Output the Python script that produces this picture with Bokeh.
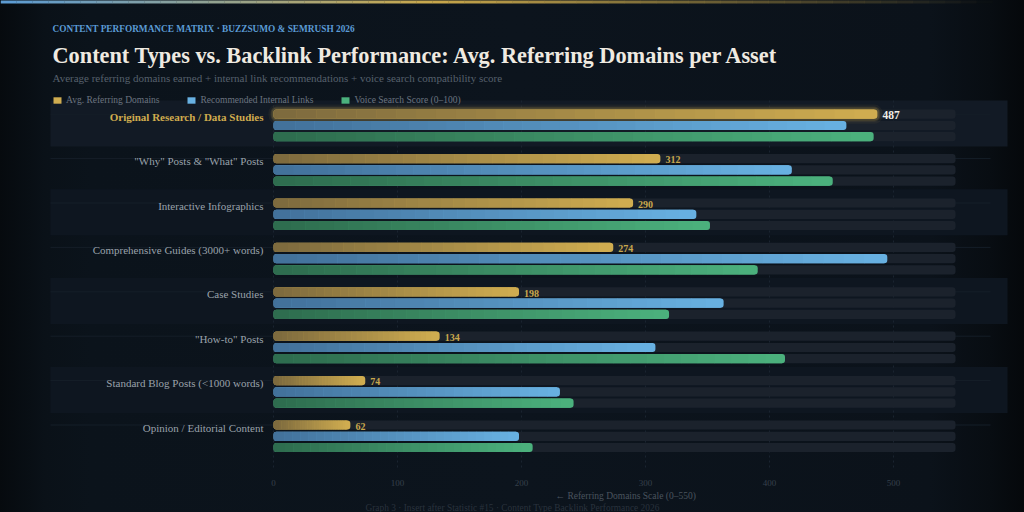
import numpy as np
from bokeh.plotting import figure
from bokeh.models import (Range1d, FixedTicker, Label, Legend, LegendItem,
                          ColumnDataSource, Title)
from bokeh.embed import file_html
from bokeh.resources import INLINE
from bokeh.core.properties import value

# ---------------- data ----------------
categories = [
    "Original Research / Data Studies",
    "\"Why\" Posts & \"What\" Posts",
    "Interactive Infographics",
    "Comprehensive Guides (3000+ words)",
    "Case Studies",
    "\"How-to\" Posts",
    "Standard Blog Posts (<1000 words)",
    "Opinion / Editorial Content",
]
referring_domains = [487, 312, 290, 274, 198, 134, 74, 62]
internal_links = [42, 38, 31, 45, 33, 28, 21, 18]
voice_score = [88, 82, 64, 71, 58, 75, 44, 38]
series_names = ["Avg. Referring Domains", "Recommended Internal Links",
                "Voice Search Score (0\u2013100)"]
x_ticks = [0, 100, 200, 300, 400, 500]
scale_max = 550
internal_links_max = 50
voice_score_max = 100

# ---------------- layout constants ----------------
W, H = 1024, 512
X0 = 273.0          # pixel of value 0
PX = 1.24           # pixels per domain unit
ROW_PX = 44.4       # pixels per category row
ROW0_PX = 126.5     # pixel of first row centre
FRAME_BOTTOM = 470

BG = "#0b131b"
TRACK = "#1b222c"
GOLD_L, GOLD_R = "#7d6a3e", "#d0ad50"
BLUE_L, BLUE_R = "#42719a", "#68b1e2"
GREEN_L, GREEN_R = "#2e6c4e", "#4bb17d"
SERIF = "Liberation Serif"


def px_x(px):
    return (px - X0) / PX


def px_y(py):
    return (py - ROW0_PX) / ROW_PX


def hex2rgb(h):
    h = h.lstrip("#")
    return tuple(int(h[i:i + 2], 16) for i in (0, 2, 4))


def mix(c1, c2, t):
    a, b = hex2rgb(c1), hex2rgb(c2)
    return "#%02x%02x%02x" % tuple(int(round(a[i] + (b[i] - a[i]) * t)) for i in range(3))


n = len(categories)
rows = np.arange(n)
blue_scaled = [v / internal_links_max * scale_max for v in internal_links]
green_scaled = [v / voice_score_max * scale_max for v in voice_score]
hi = int(np.argmax(referring_domains))

BAR_H = 9.2 / ROW_PX
OFF_GOLD = -12.8 / ROW_PX
OFF_BLUE = -1.5 / ROW_PX
OFF_GREEN = 9.7 / ROW_PX

p = figure(width=W, height=H, output_backend="svg", toolbar_location=None,
           x_range=Range1d(px_x(0), px_x(W)),
           y_range=Range1d(px_y(FRAME_BOTTOM), px_y(0)),
           y_axis_location=None, min_border_left=0, min_border_right=0,
           min_border_top=0, min_border_bottom=H - FRAME_BOTTOM,
           background_fill_color=BG, border_fill_color=BG,
           outline_line_color=None)
# page-wide dark background with edge vignette
p.background_fill_alpha = 0
p.border_fill_alpha = 0
p.styles = {"background": "linear-gradient(90deg, #060a0e 0px, #0a1118 45px, "
                          "#0b131b 90px, #0c141d 520px, #0b121a 930px, "
                          "#080d12 990px, #05080b 1024px)"}
p.xgrid.visible = False
p.ygrid.visible = False

ax = p.xaxis[0]
ax.ticker = FixedTicker(ticks=x_ticks)
ax.axis_line_color = None
ax.major_tick_line_color = None
ax.minor_tick_line_color = None
ax.major_label_standoff = 3
ax.major_label_text_font = SERIF
ax.major_label_text_font_size = "9px"
ax.major_label_text_color = "#36404b"

# axis title and footer below the axis
p.add_layout(Title(text="\u2190  Referring Domains Scale (0\u2013550)", align="left",
                   offset=555, standoff=0, text_font=SERIF,
                   text_font_size="9.5px", text_font_style="normal",
                   text_color="#4a535e"), "below")
p.add_layout(Title(text="Graph 3 \u00b7 Insert after Statistic #15 \u00b7 Content Type Backlink Performance 2026",
                   align="center", standoff=0, text_font=SERIF,
                   text_font_size="9.4px", text_font_style="normal",
                   text_color="#29323c"), "below")

# ---------------- top stripe ----------------
sl, sr, sc, sa = [], [], [], []
NS = 64
for k in range(NS):
    t = (k + 0.5) / NS
    if t < 0.42:
        c = mix("#5b9bd5", "#c9a84c", t / 0.42)
        a = 1.0
    else:
        c = "#c9a84c"
        a = max(0.0, 1 - (t - 0.42) / 0.55)
    sl.append(px_x(W * k / NS))
    sr.append(px_x(W * (k + 1) / NS) + 0.2)
    sc.append(c)
    sa.append(a)
p.quad(left=sl, right=sr, top=px_y(-1), bottom=px_y(3), fill_color=sc,
       fill_alpha=sa, line_color=None)

# ---------------- row bands & separators ----------------
band_rows = rows[::2]
band_colors = ["#121a25" if r == hi else "#0e1620" for r in band_rows]
p.hbar(y=band_rows - 3.5 / ROW_PX, left=px_x(50), right=px_x(1007),
       height=46 / ROW_PX, fill_color=band_colors, line_color=None)
p.segment(x0=px_x(50), x1=px_x(990), y0=rows + OFF_GOLD, y1=rows + OFF_GOLD,
          line_color="#151e28", line_width=1)

# grid lines
p.segment(x0=x_ticks, x1=x_ticks, y0=px_y(100), y1=px_y(FRAME_BOTTOM),
          line_color="#1a2430", line_width=1, line_dash="2 3")

# ---------------- tracks ----------------
for off in (OFF_GOLD, OFF_BLUE, OFF_GREEN):
    p.hbar(y=rows + off, left=0, right=scale_max, height=BAR_H,
           fill_color=TRACK, line_color=None, border_radius=3)

# glow for the top asset
gv = referring_domains[hi]
for grow, alpha in ((5, 0.06), (3, 0.10), (2, 0.16)):
    p.hbar(y=[hi + OFF_GOLD], left=-grow / PX, right=gv + grow / PX,
           height=BAR_H + 2 * grow / ROW_PX, fill_color="#d6b24e",
           fill_alpha=alpha, line_color=None, border_radius=3 + grow)


def gradient_bar(vals, off, c_left, c_right, nseg=30):
    ys = rows + off
    base = p.hbar(y=ys, left=0, right=vals, height=BAR_H, fill_color=c_right,
                  line_color=None, border_radius=3)
    r = 3 / PX
    p.hbar(y=ys, left=0, right=2 * r, height=BAR_H, fill_color=c_left,
           line_color=None, border_radius=3)
    L, R, T, B, C = [], [], [], [], []
    for v, y in zip(vals, ys):
        a, b = r, v - r
        for k in range(nseg):
            L.append(a + (b - a) * k / nseg)
            R.append(a + (b - a) * (k + 1) / nseg + (0.4 / PX if k < nseg - 1 else 0))
            T.append(y - BAR_H / 2)
            B.append(y + BAR_H / 2)
            C.append(mix(c_left, c_right, (k + 0.5) / nseg))
    p.quad(left=L, right=R, top=T, bottom=B, fill_color=C, line_color=None)
    return base


r_gold = gradient_bar(referring_domains, OFF_GOLD, GOLD_L, GOLD_R)
r_blue = gradient_bar(blue_scaled, OFF_BLUE, BLUE_L, BLUE_R)
r_green = gradient_bar(green_scaled, OFF_GREEN, GREEN_L, GREEN_R)

# ---------------- value labels ----------------
val_src = ColumnDataSource(dict(
    x=referring_domains,
    y=rows - 11.6 / ROW_PX,
    text=[str(v) for v in referring_domains],
    color=["#f2eee6" if i == hi else "#c9a84c" for i in rows],
    size=["11.5px" if i == hi else "10px" for i in rows],
))
p.text(x="x", y="y", text="text", source=val_src, x_offset=5,
       text_color="color", text_font_size="size", text_font=value(SERIF),
       text_font_style="bold", text_baseline="alphabetic", text_align="left")

# ---------------- category labels ----------------
cat_src = ColumnDataSource(dict(
    x=[0] * n,
    y=rows - 10.2 / ROW_PX,
    text=categories,
    color=["#d0ac4e" if i == hi else "#9aa2ab" for i in rows],
    style=["bold" if i == hi else "normal" for i in rows],
))
p.text(x="x", y="y", text="text", source=cat_src, x_offset=-10,
       text_color="color", text_font_style="style", text_font=value(SERIF),
       text_font_size="11px", text_baseline="alphabetic", text_align="right")

# ---------------- legend ----------------
legend = Legend(items=[LegendItem(label=series_names[0], renderers=[r_gold]),
                       LegendItem(label=series_names[1], renderers=[r_blue]),
                       LegendItem(label=series_names[2], renderers=[r_green])],
                orientation="horizontal", location=(52, FRAME_BOTTOM - 105),
                glyph_width=10, glyph_height=8, label_height=8,
                label_standoff=4, spacing=27, padding=0, margin=0,
                background_fill_alpha=0, border_line_alpha=0,
                label_text_font=SERIF, label_text_font_size="9.5px",
                label_text_color="#6b7480", click_policy="none")
p.add_layout(legend)

# ---------------- headings ----------------
def canvas_label(x, y, text, size, color, style="normal", align="left"):
    p.add_layout(Label(x=x, y=y, x_units="canvas", y_units="canvas", text=text,
                       text_font=SERIF, text_font_size=size, text_color=color,
                       text_font_style=style, text_align=align,
                       text_baseline="alphabetic"))


canvas_label(52, 28.5, "CONTENT PERFORMANCE MATRIX \u00b7 BUZZSUMO & SEMRUSH 2026",
             "9.3px", "#5b9bd5", "bold")
canvas_label(52, 55, "Content Types vs. Backlink Performance: Avg. Referring Domains per Asset",
             "22.3px", "#efeae1", "bold")
canvas_label(52, 77.5, "Average referring domains earned + internal link recommendations + voice search compatibility score",
             "11px", "#56606c")

open("out.html", "w").write(file_html(p, INLINE))
